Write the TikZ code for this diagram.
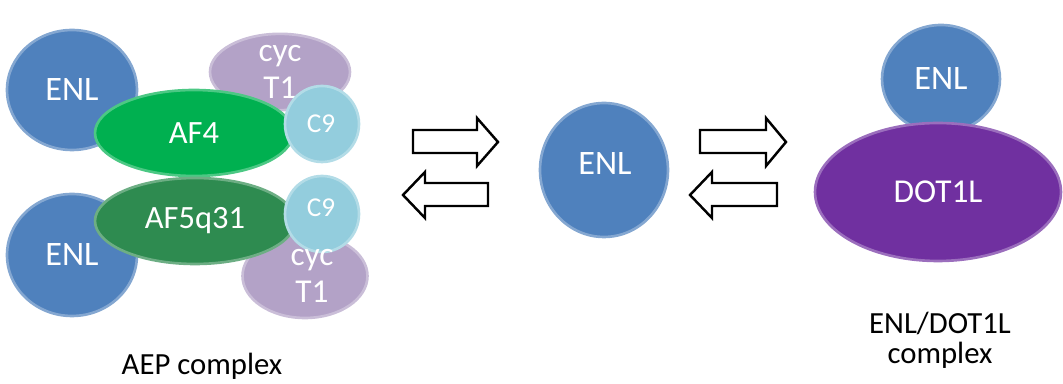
\documentclass[tikz,border=0pt]{standalone}
\usepackage{fontspec}
\setmainfont{Carlito}
\usetikzlibrary{shapes.geometric}
\definecolor{enlblue}{HTML}{4F81BD}
\definecolor{afgreen}{HTML}{00B050}
\definecolor{afdark}{HTML}{2E8B50}
\definecolor{cyclav}{HTML}{B3A2C7}
\definecolor{cnine}{HTML}{93CDDD}
\definecolor{dotpurple}{HTML}{7030A0}
\tikzset{
  prot/.style={ellipse, inner sep=0pt, text=white, fill=#1, draw=#1!70!white, line width=1.5pt},
  blockarrow/.style={draw=black, line width=1.4pt, fill=white, miter limit=10},
  caption/.style={text=black, font=\fontsize{17.5}{17}\selectfont, align=center},
  enlfont/.style={font=\fontsize{19.5}{22}\selectfont},
  affont/.style={font=\fontsize{18.5}{21}\selectfont},
  cycfont/.style={font=\fontsize{19}{21.5}\selectfont, align=center},
  c9font/.style={font=\fontsize{15.5}{18}\selectfont}
}
\begin{document}
\begin{tikzpicture}[x=0.02cm,y=-0.02cm]
\useasboundingbox (0,0) rectangle (1063,384);
% AEP complex
\node[prot=enlblue, minimum width=2.6cm, minimum height=2.4cm, enlfont] (enlA) at (72,90) {ENL};
\node[prot=cyclav, minimum width=2.8cm, minimum height=1.5cm, cycfont] (cycA) at (280,72) {cyc\\T1};
\node[prot=afgreen, minimum width=3.96cm, minimum height=1.72cm, affont] (af4) at (194,133) {AF4};
\node[prot=cnine, minimum width=1.48cm, minimum height=1.52cm] (c9a) at (322,124) {};
\node[text=white, c9font] (c9at) at (321,124) {C9};
\node[prot=enlblue, minimum width=2.6cm, minimum height=2.44cm, enlfont] (enlB) at (72,255) {ENL};
\node[prot=cyclav, minimum width=2.5cm, minimum height=1.68cm] (cycB) at (305,276) {};
\node[prot=afdark, minimum width=4.0cm, minimum height=1.72cm, affont] (af5) at (195,221) {AF5q31};
\node[prot=cnine, minimum width=1.48cm, minimum height=1.52cm] (c9b) at (322,214) {};
\node[text=white, c9font] (c9bt) at (321,208) {C9};
\node[text=white, cycfont] (cycBt) at (312,276) {cyc\\T1};
\node[caption] (aep) at (202,366) {AEP complex};
% free ENL
\node[prot=enlblue, minimum width=2.56cm, minimum height=2.68cm] (enlC) at (604,170) {};
\node[text=white, enlfont] (enlCt) at (605,164) {ENL};
% ENL/DOT1L complex
\node[prot=enlblue, minimum width=2.36cm, minimum height=2.16cm, enlfont] (enlD) at (941,79) {ENL};
\node[prot=dotpurple, minimum width=4.92cm, minimum height=2.76cm, font=\fontsize{19}{22}\selectfont] (dot) at (938,192) {DOT1L};
\node[caption] (dotcap) at (940,340) {ENL/DOT1L\\complex};
% block arrows
\draw[blockarrow] (413,130) -- (477,130) -- (477,118) -- (498,142) -- (477,166) -- (477,153) -- (413,153) -- cycle;
\draw[blockarrow] (488,183) -- (425,183) -- (425,172) -- (403,195) -- (425,218) -- (425,206) -- (488,206) -- cycle;
\draw[blockarrow] (700,130) -- (766,130) -- (766,118) -- (786,142) -- (766,166) -- (766,153) -- (700,153) -- cycle;
\draw[blockarrow] (777,183) -- (712,183) -- (712,172) -- (690,195) -- (712,218) -- (712,206) -- (777,206) -- cycle;
\end{tikzpicture}
\end{document}
